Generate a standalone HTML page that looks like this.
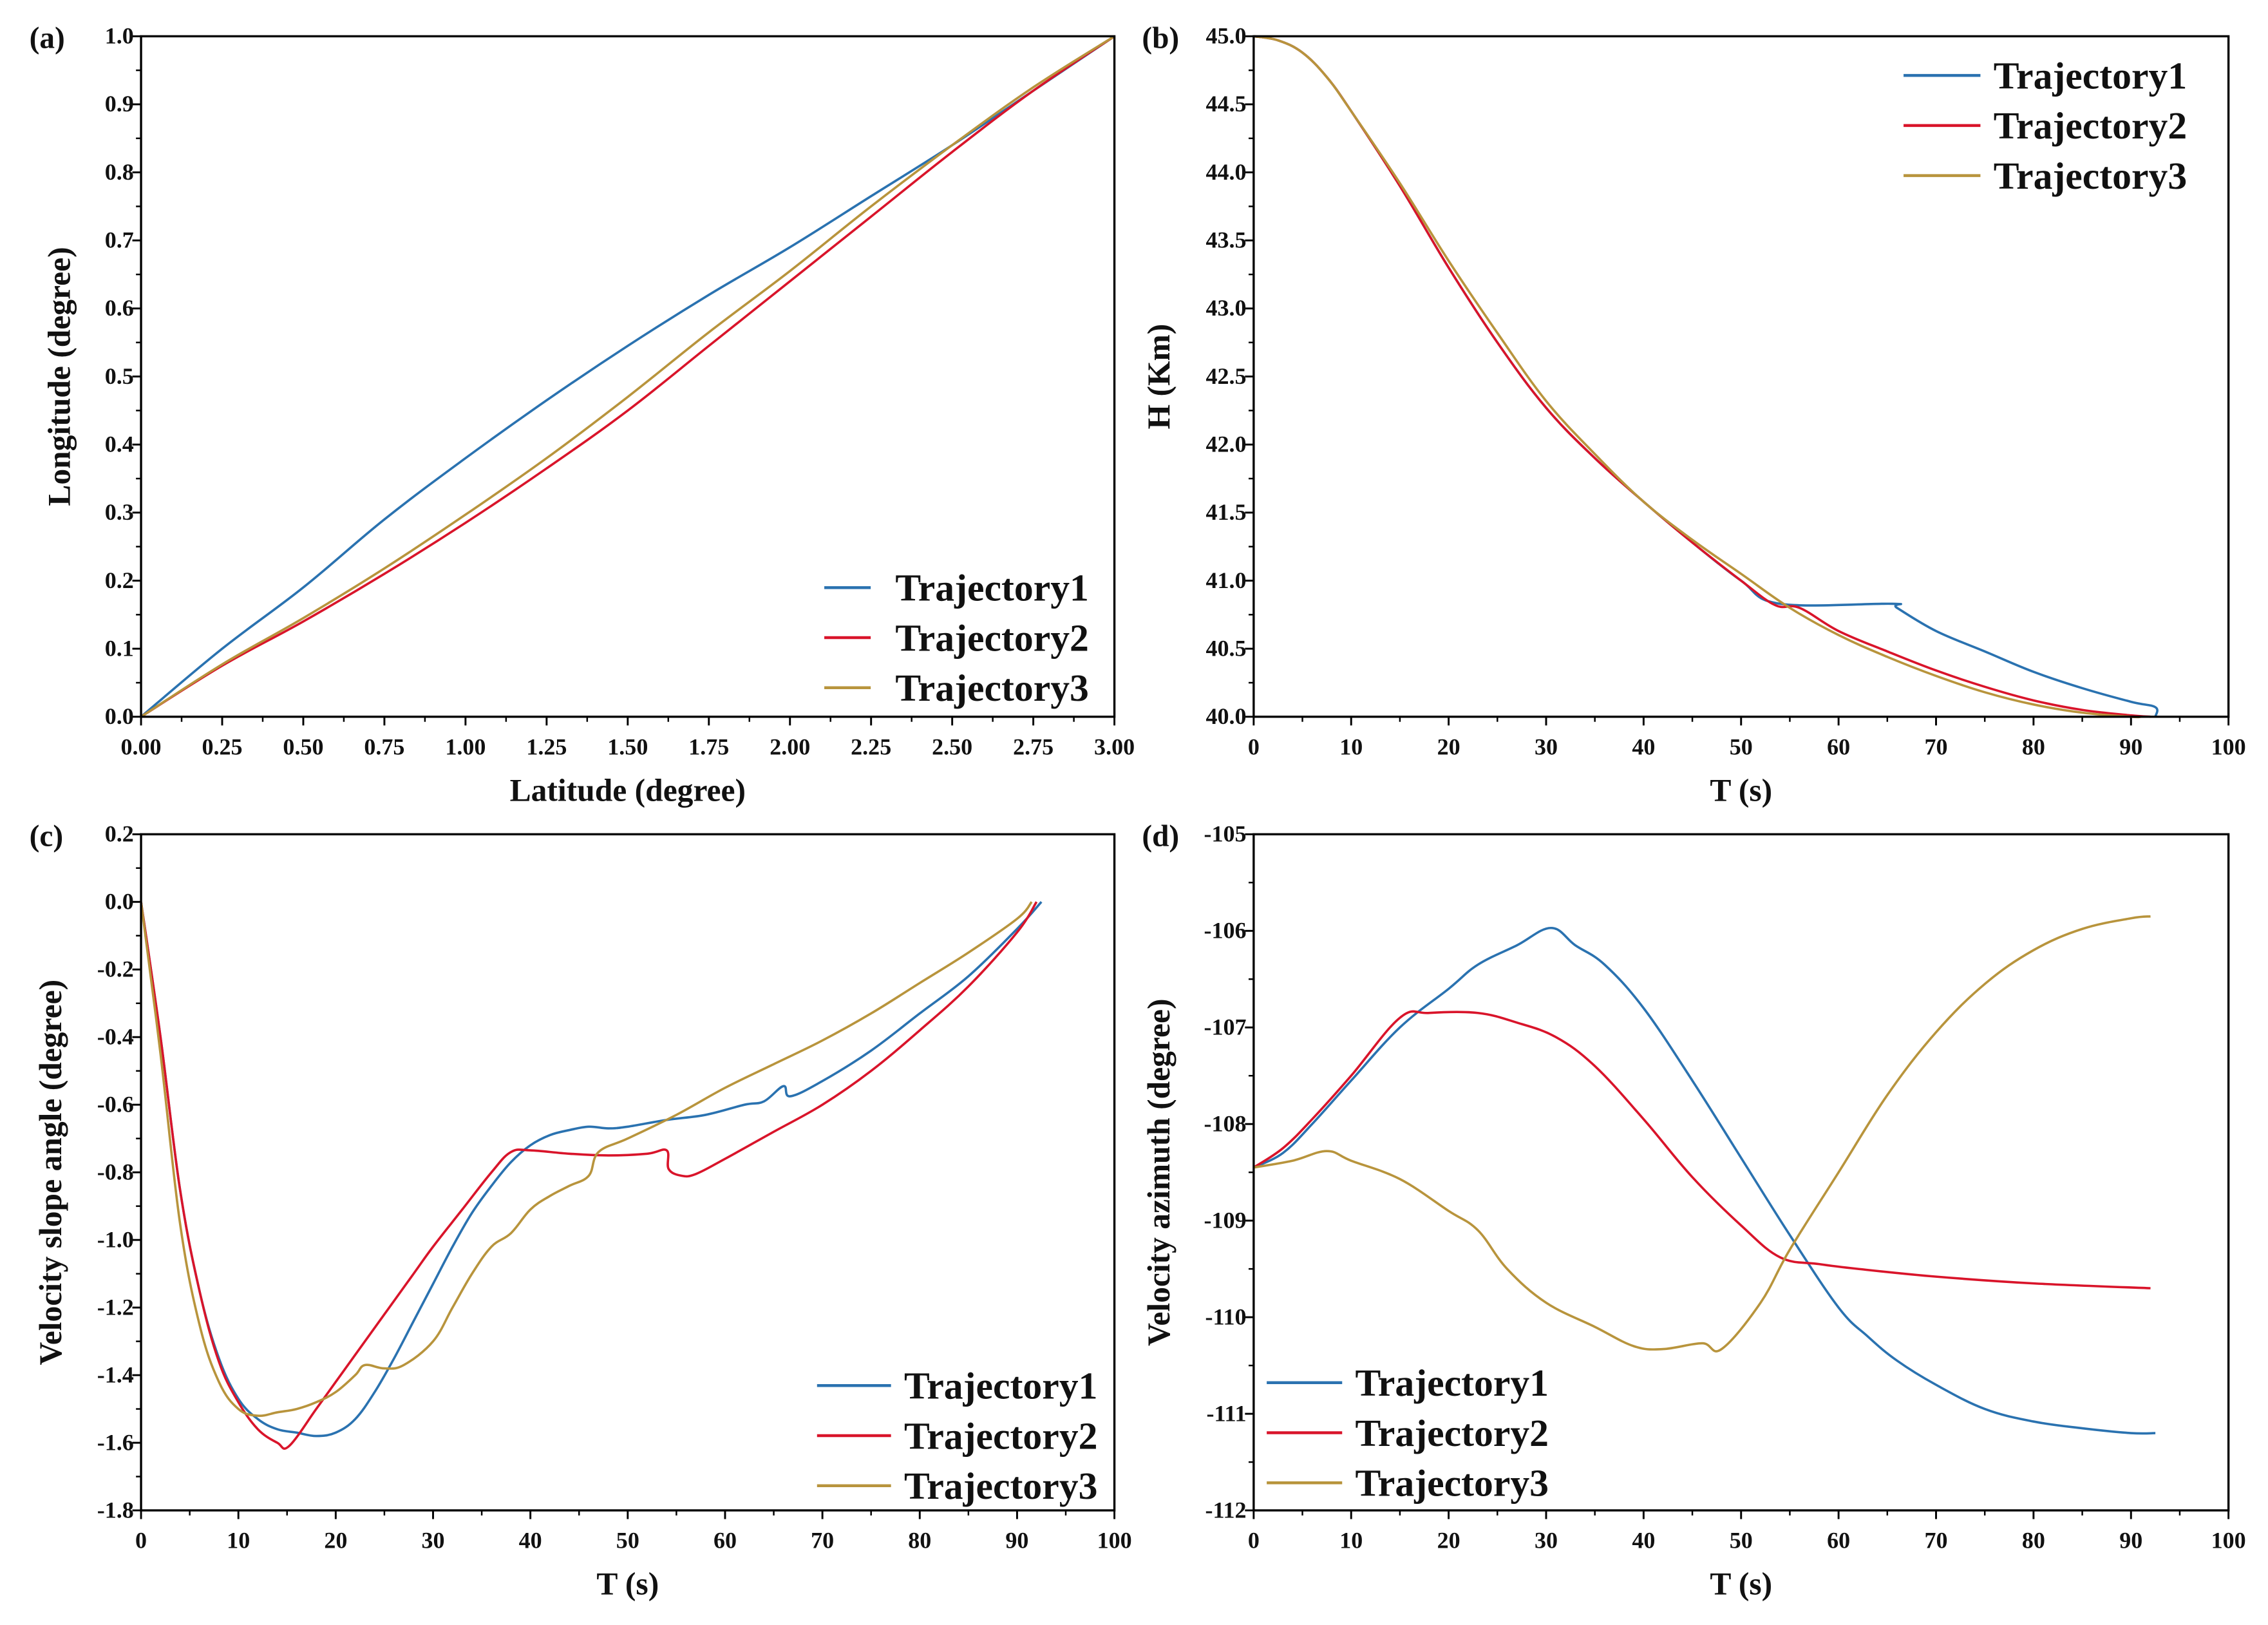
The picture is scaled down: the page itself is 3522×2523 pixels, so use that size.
<!DOCTYPE html>
<html><head><meta charset="utf-8"><style>
html,body{margin:0;padding:0;background:#fff}
svg{display:block}
text{font-family:"Liberation Serif",serif;font-weight:bold;fill:#111}
</style></head><body>
<svg id="fig" width="3522" height="2523" viewBox="0 0 1563 1120" xmlns="http://www.w3.org/2000/svg"></svg>
<script>
// Panel (a)
const aT1x=[0,0.25,0.5,0.75,1.0,1.25,1.5,1.75,2.0,2.25,2.5,2.75,3];
const aT1y=[0,0.1,0.19,0.29,0.38,0.465,0.545,0.62,0.69,0.765,0.84,0.92,1];
const aT2x=[0,0.25,0.5,0.75,1.0,1.25,1.5,1.75,2.0,2.25,2.5,2.75,3];
const aT2y=[0,0.075,0.14,0.21,0.285,0.365,0.45,0.545,0.64,0.735,0.83,0.92,1];
const aT3x=[0,0.25,0.5,0.75,1.0,1.25,1.5,1.75,2.0,2.25,2.5,2.75,3];
const aT3y=[0,0.077,0.145,0.218,0.297,0.38,0.47,0.565,0.655,0.75,0.84,0.925,1];
const aXTicks=["0.00","0.25","0.50","0.75","1.00","1.25","1.50","1.75","2.00","2.25","2.50","2.75","3.00"];
const aYTicks=["0.0","0.1","0.2","0.3","0.4","0.5","0.6","0.7","0.8","0.9","1.0"];
// Panel (b)
const bT1x=[0,2.5,5,7.5,10,15,20,25,30,35,40,45,50,54,65.5,66,70,75,80,85,90,92.5,92.5];
const bT1y=[45,44.97,44.88,44.7,44.45,43.9,43.3,42.75,42.27,41.9,41.58,41.28,41.0,40.83,40.83,40.8,40.63,40.48,40.33,40.21,40.11,40.07,40.0];
const bT2x=[0,2.5,5,7.5,10,15,20,25,30,35,40,45,50,53.5,56,60,65,70,75,80,85,90,92];
const bT2y=[45,44.97,44.88,44.7,44.45,43.9,43.3,42.75,42.27,41.9,41.58,41.28,41.0,40.82,40.8,40.63,40.48,40.34,40.22,40.12,40.05,40.01,40];
const bT3x=[0,2.5,5,7.5,10,15,20,25,30,35,40,45,50,55,60,65,70,75,80,85,90,91];
const bT3y=[45,44.97,44.88,44.7,44.45,43.92,43.35,42.82,42.32,41.93,41.58,41.3,41.05,40.8,40.6,40.44,40.3,40.18,40.09,40.03,40.0,40];
const bXTicks=["0","10","20","30","40","50","60","70","80","90","100"];
const bYTicks=["40.0","40.5","41.0","41.5","42.0","42.5","43.0","43.5","44.0","44.5","45.0"];
// Panel (c)
const cT1x=[0,2,4,6,8,10,12,14,16,18,20,22,24,26,28,30,32,34,36,38,40,42,44,46,48,50,54,58,62,64,66,66.7,70,75,80,85,90,92.5];
const cT1y=[0,-0.4,-0.85,-1.15,-1.35,-1.47,-1.53,-1.56,-1.57,-1.58,-1.57,-1.53,-1.45,-1.35,-1.24,-1.13,-1.02,-0.92,-0.84,-0.77,-0.72,-0.69,-0.675,-0.665,-0.67,-0.665,-0.645,-0.63,-0.6,-0.59,-0.545,-0.575,-0.53,-0.44,-0.33,-0.22,-0.08,0];
const cT2x=[0,2,4,6,8,10,12,14,15.2,18,20,22,25,28,30,33,36,38,40,44,48,52,54,54.2,55.5,57,60,65,70,75,80,85,90,92];
const cT2y=[0,-0.4,-0.85,-1.15,-1.36,-1.48,-1.56,-1.6,-1.61,-1.5,-1.42,-1.34,-1.22,-1.1,-1.02,-0.91,-0.8,-0.74,-0.735,-0.745,-0.75,-0.745,-0.735,-0.79,-0.81,-0.805,-0.76,-0.68,-0.6,-0.5,-0.38,-0.25,-0.09,0];
const cT3x=[0,2,4,6,8,10,12,14,16,18,20,22,23,25,27,30,32,34,36,38,40,42,44,46,47,50,55,60,65,70,75,80,85,90,91.5];
const cT3y=[0,-0.45,-0.95,-1.25,-1.42,-1.5,-1.52,-1.51,-1.5,-1.48,-1.45,-1.4,-1.37,-1.38,-1.37,-1.3,-1.2,-1.1,-1.02,-0.98,-0.91,-0.87,-0.84,-0.81,-0.74,-0.7,-0.63,-0.55,-0.48,-0.41,-0.33,-0.24,-0.15,-0.05,0];
const cYTicks=["-1.8","-1.6","-1.4","-1.2","-1.0","-0.8","-0.6","-0.4","-0.2","0.0","0.2"];
// Panel (d)
const dT1x=[0,3,6,10,15,20,23,27,30.5,33,36,40,45,50,55,60,63,66,70,75,80,85,90,92.5];
const dT1y=[-108.45,-108.3,-108.0,-107.55,-107.0,-106.6,-106.35,-106.15,-105.97,-106.15,-106.35,-106.8,-107.55,-108.35,-109.15,-109.9,-110.2,-110.45,-110.7,-110.95,-111.08,-111.15,-111.2,-111.2];
const dT2x=[0,3,6,10,15,18,23,27,31,35,40,45,50,54,58,62,70,80,92];
const dT2y=[-108.45,-108.25,-107.95,-107.5,-106.9,-106.85,-106.85,-106.95,-107.1,-107.4,-107.95,-108.55,-109.05,-109.38,-109.45,-109.5,-109.58,-109.65,-109.7];
const dT3x=[0,4,7.5,10,15,20,23,26,30,35,39,42,46,48,52,55,60,65,70,75,80,85,90,92];
const dT3y=[-108.45,-108.38,-108.28,-108.38,-108.57,-108.9,-109.1,-109.5,-109.85,-110.1,-110.3,-110.33,-110.27,-110.33,-109.85,-109.3,-108.5,-107.7,-107.05,-106.55,-106.2,-105.98,-105.87,-105.85];
const dYTicks=["-112","-111","-110","-109","-108","-107","-106","-105"];

const NS="http://www.w3.org/2000/svg";
const svg=document.getElementById('fig');
const C1="#2a72b0",C2="#d9142a",C3="#b8943c";
function mk(tag,attrs,parent){const e=document.createElementNS(NS,tag);for(const k in attrs)e.setAttribute(k,attrs[k]);(parent||svg).appendChild(e);return e;}
function smooth(P){
  let d='M'+P[0][0].toFixed(2)+','+P[0][1].toFixed(2);
  for(let i=0;i<P.length-1;i++){
    const p0=P[Math.max(i-1,0)],p1=P[i],p2=P[i+1],p3=P[Math.min(i+2,P.length-1)];
    const t=0.18;
    const c1=[p1[0]+(p2[0]-p0[0])*t,p1[1]+(p2[1]-p0[1])*t];
    const c2=[p2[0]-(p3[0]-p1[0])*t,p2[1]-(p3[1]-p1[1])*t];
    d+=' C'+c1[0].toFixed(2)+','+c1[1].toFixed(2)+' '+c2[0].toFixed(2)+','+c2[1].toFixed(2)+' '+p2[0].toFixed(2)+','+p2[1].toFixed(2);
  }
  return d;
}

function panel(o){
  const g=mk('g',{});
  
  
  const sx=v=>o.x0+(v-o.xmin)/(o.xmax-o.xmin)*(o.x1-o.x0);
  const sy=v=>o.y1-(v-o.ymin)/(o.ymax-o.ymin)*(o.y1-o.y0);
  const nx=o.xt.length;
  for(let i=0;i<nx;i++){
    const v=o.xmin+i*(o.xmax-o.xmin)/(nx-1);
    const X=sx(v);
    mk('line',{x1:X,y1:o.y1,x2:X,y2:o.y1+6,stroke:'#000','stroke-width':1.3},g);
    if(i<nx-1){const Xm=sx(v+(o.xmax-o.xmin)/(nx-1)/2);mk('line',{x1:Xm,y1:o.y1,x2:Xm,y2:o.y1+3.5,stroke:'#000','stroke-width':1.1},g);}
    const t=mk('text',{x:X,y:o.y1+26,'text-anchor':'middle','font-size':16},g);
    
    
    t.textContent=o.xt[i];
  }
  const ny=o.yt.length;
  for(let i=0;i<ny;i++){
    const v=o.ymin+i*(o.ymax-o.ymin)/(ny-1);
    const Y=sy(v);
    mk('line',{x1:o.x0-6,y1:Y,x2:o.x0,y2:Y,stroke:'#000','stroke-width':1.3},g);
    if(i<ny-1){const Ym=sy(v+(o.ymax-o.ymin)/(ny-1)/2);mk('line',{x1:o.x0-3.5,y1:Ym,x2:o.x0,y2:Ym,stroke:'#000','stroke-width':1.1},g);}
    const t=mk('text',{x:o.x0-5,y:Y+5,'text-anchor':'end','font-size':16},g);
    
    
    t.textContent=o.yt[i];
  }
  o.series.forEach((s,k)=>{
    const pts=s.x.map((v,i)=>[sx(v),sy(s.y[i])]);
    const p=mk('path',{d:smooth(pts),fill:'none',stroke:s.c,'stroke-width':1.6,'stroke-linejoin':'round'},g);
    
    
  });
  const f=mk('rect',{x:o.x0,y:o.y0,width:o.x1-o.x0,height:o.y1-o.y0,fill:'none',stroke:'#000','stroke-width':1.5},g);
  
  
  const pl=mk('text',{x:o.x0-77,y:o.y0+8,'font-size':21},g);
  
  
  pl.textContent=o.label;
  const xl=mk('text',{x:(o.x0+o.x1)/2,y:o.y1+58,'text-anchor':'middle','font-size':22},g);
  
  
  xl.textContent=o.xlabel;
  const yc=(o.y0+o.y1)/2;
  const yl=mk('text',{x:o.ylx,y:yc,'text-anchor':'middle','font-size':22,transform:'rotate(-90 '+o.ylx+' '+yc+')'},g);
  
  
  yl.textContent=o.ylabel;
  const lg=mk('g',{},g);
  
  
  o.series.forEach((s,k)=>{
    const Y=o.leg.y+k*o.leg.dy;
    mk('line',{x1:o.leg.x,y1:Y,x2:o.leg.x+o.leg.w,y2:Y,stroke:s.c,'stroke-width':2},lg);
    const t=mk('text',{x:o.leg.tx,y:Y+9,'font-size':26.5},lg);
    
    
    t.textContent='Trajectory'+(k+1);
  });
}

panel({name:'panel-a',label:'(a)',x0:97,x1:768,y0:25,y1:494,xmin:0,xmax:3,ymin:0,ymax:1,xt:aXTicks,yt:aYTicks,
  xlabel:'Latitude (degree)',ylabel:'Longitude (degree)',ylx:48,
  series:[{x:aT1x,y:aT1y,c:C1},{x:aT2x,y:aT2y,c:C2},{x:aT3x,y:aT3y,c:C3}],
  leg:{x:568,w:32,tx:617,y:405,dy:34.5}});
panel({name:'panel-b',label:'(b)',x0:864,x1:1536,y0:25,y1:494,xmin:0,xmax:100,ymin:40,ymax:45,xt:bXTicks,yt:bYTicks,
  xlabel:'T (s)',ylabel:'H (Km)',ylx:806,
  series:[{x:bT1x,y:bT1y,c:C1},{x:bT2x,y:bT2y,c:C2},{x:bT3x,y:bT3y,c:C3}],
  leg:{x:1312,w:53,tx:1374,y:52,dy:34.5}});
panel({name:'panel-c',label:'(c)',x0:97,x1:768,y0:575,y1:1041,xmin:0,xmax:100,ymin:-1.8,ymax:0.2,xt:bXTicks,yt:cYTicks,
  xlabel:'T (s)',ylabel:'Velocity slope angle (degree)',ylx:42,
  series:[{x:cT1x,y:cT1y,c:C1},{x:cT2x,y:cT2y,c:C2},{x:cT3x,y:cT3y,c:C3}],
  leg:{x:563,w:51,tx:623,y:955,dy:34.5}});
panel({name:'panel-d',label:'(d)',x0:864,x1:1536,y0:575,y1:1041,xmin:0,xmax:100,ymin:-112,ymax:-105,xt:bXTicks,yt:dYTicks,
  xlabel:'T (s)',ylabel:'Velocity azimuth (degree)',ylx:806,
  series:[{x:dT1x,y:dT1y,c:C1},{x:dT2x,y:dT2y,c:C2},{x:dT3x,y:dT3y,c:C3}],
  leg:{x:873,w:52,tx:934,y:953,dy:34.5}});
</script>
</body></html>
